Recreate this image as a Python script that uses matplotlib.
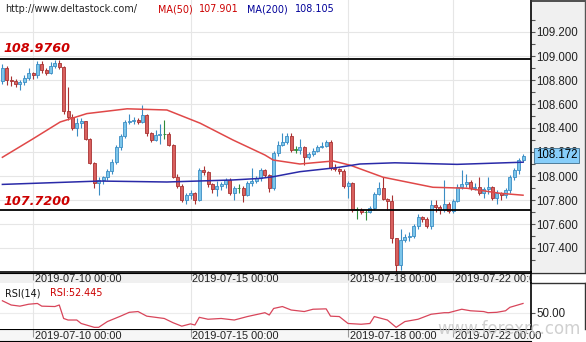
import numpy as np
import matplotlib.pyplot as plt
from matplotlib.patches import Rectangle
from matplotlib.lines import Line2D
import matplotlib.transforms as mtransforms

# H2 candles, USDJPY 2019-07-09 .. 2019-07-23
first_open = 108.79
closes = [108.90, 108.80, 108.79, 108.77, 108.78, 108.82, 108.86, 108.84, 108.93, 108.88,
          108.86, 108.92, 108.94, 108.91, 108.54, 108.49, 108.40, 108.44, 108.46, 108.31,
          108.11, 107.94, 107.97, 107.99, 108.04, 108.12, 108.24, 108.33, 108.45, 108.46,
          108.47, 108.45, 108.51, 108.36, 108.30, 108.34, 108.35, 108.35, 108.26, 107.99,
          107.92, 107.80, 107.84, 107.86, 107.80, 108.05, 108.03, 107.93, 107.89, 107.92,
          107.93, 107.97, 107.86, 107.90, 107.90, 107.84, 107.94, 107.96, 107.98, 108.05,
          108.01, 107.90, 108.19, 108.26, 108.28, 108.33, 108.22, 108.22, 108.24, 108.16,
          108.18, 108.21, 108.24, 108.25, 108.28, 108.07, 108.06, 108.04, 107.92, 107.94,
          107.72, 107.72, 107.70, 107.70, 107.73, 107.85, 107.90, 107.81, 107.79, 107.48,
          107.26, 107.47, 107.49, 107.50, 107.58, 107.66, 107.64, 107.58, 107.76, 107.74,
          107.72, 107.77, 107.71, 107.79, 107.91, 107.93, 107.95, 107.90, 107.91, 107.86,
          107.89, 107.91, 107.82, 107.86, 107.84, 107.88, 107.99, 108.05, 108.13, 108.17]
highs = [108.93, 108.92, 108.83, 108.81, 108.80, 108.84, 108.90, 108.87, 108.96, 108.96,
         108.90, 108.95, 108.97, 108.97, 108.92, 108.74, 108.52, 108.48, 108.48, 108.46,
         108.32, 108.12, 107.99, 108.00, 108.06, 108.14, 108.26, 108.35, 108.47, 108.52,
         108.49, 108.48, 108.59, 108.52, 108.37, 108.38, 108.43, 108.47, 108.37, 108.27,
         108.02, 107.93, 107.86, 107.88, 107.87, 108.07, 108.08, 108.04, 107.94, 107.96,
         107.95, 107.98, 107.98, 107.92, 107.93, 107.92, 107.96, 108.07, 108.00, 108.07,
         108.06, 108.02, 108.21, 108.29, 108.36, 108.36, 108.36, 108.25, 108.31, 108.25,
         108.20, 108.23, 108.26, 108.28, 108.30, 108.30, 108.10, 108.07, 108.06, 107.96,
         107.95, 107.74, 107.73, 107.72, 107.75, 107.87, 107.95, 107.99, 107.82, 107.84,
         107.48, 107.56, 107.52, 107.53, 107.60, 107.68, 107.67, 107.66, 107.80, 107.80,
         107.76, 107.97, 107.78, 107.81, 107.93, 108.05, 108.02, 107.97, 107.94, 107.99,
         107.91, 107.99, 107.92, 107.88, 107.87, 107.90, 108.01, 108.07, 108.15, 108.18]
lows = [108.77, 108.76, 108.75, 108.74, 108.72, 108.76, 108.80, 108.81, 108.82, 108.86,
        108.84, 108.85, 108.90, 108.89, 108.52, 108.47, 108.38, 108.33, 108.40, 108.30,
        108.10, 107.90, 107.84, 107.93, 107.97, 108.02, 108.10, 108.22, 108.32, 108.43,
        108.43, 108.43, 108.44, 108.33, 108.28, 108.29, 108.27, 108.31, 108.25, 107.98,
        107.90, 107.78, 107.77, 107.81, 107.77, 107.79, 108.01, 107.91, 107.86, 107.83,
        107.88, 107.90, 107.84, 107.80, 107.86, 107.78, 107.83, 107.92, 107.94, 107.96,
        107.99, 107.87, 107.88, 108.17, 108.25, 108.27, 108.20, 108.19, 108.18, 108.09,
        108.14, 108.17, 108.20, 108.23, 108.24, 108.05, 108.04, 108.02, 107.90, 107.82,
        107.70, 107.64, 107.68, 107.63, 107.69, 107.72, 107.84, 107.80, 107.72, 107.44,
        107.20, 107.22, 107.45, 107.46, 107.48, 107.56, 107.62, 107.57, 107.56, 107.70,
        107.68, 107.70, 107.69, 107.69, 107.78, 107.89, 107.91, 107.88, 107.88, 107.84,
        107.82, 107.85, 107.80, 107.77, 107.80, 107.82, 107.86, 107.97, 108.02, 108.12]

# moving averages (candle index, value)
ma50_idx = [0, 7, 13.2, 19.3, 28.5, 37.6, 45.2, 52.7, 60, 61.9, 68, 75.6, 79.5, 87, 98.4, 106.2, 113.7, 119]
ma50_val = [108.156, 108.31, 108.45, 108.52, 108.56, 108.55, 108.44, 108.30, 108.175, 108.133,
            108.10, 108.125, 108.09, 107.99, 107.906, 107.898, 107.856, 107.84]
ma200_idx = [0, 22.3, 37.6, 52.7, 58.9, 61.9, 68, 76.5, 81.7, 89.7, 103.9, 119]
ma200_val = [107.93, 107.958, 107.95, 107.967, 107.98, 107.994, 108.036, 108.07, 108.10, 108.11,
             108.097, 108.115]

rsi_idx = [0, 2, 4, 6, 8, 9, 12, 13, 14, 15, 17, 18, 21, 22, 24, 27, 29, 31, 33, 35,
           37, 39, 41, 43, 44, 45, 47, 50, 53, 54, 56, 60, 61, 62, 64, 66, 69, 71, 74, 75,
           77, 79, 82, 84, 85, 88, 90, 92, 95, 98, 101, 102, 105, 107, 110, 111, 113, 115, 116, 119]
rsi_val = [53.1, 52.0, 51.7, 52.2, 52.4, 51.7, 51.6, 52.0, 48.5, 48.1, 48.1, 47.2, 46.2, 46.2, 47.7,
           49.1, 50.1, 50.3, 49.1, 48.8, 48.5, 47.4, 46.5, 47.1, 46.8, 48.8, 48.3, 48.5, 48.1, 48.4,
           49.0, 50.0, 49.4, 51.1, 51.6, 50.7, 50.3, 50.9, 51.0, 49.1, 49.0, 47.2, 47.0, 47.2, 49.0,
           48.1, 46.2, 47.7, 48.3, 49.6, 50.0, 50.0, 50.9, 50.5, 50.3, 50.0, 50.1, 50.5, 51.4, 52.4]

date_idx = [7, 43, 79, 103]
date_labels = ['2019-07-10 00:00', '2019-07-15 00:00', '2019-07-18 00:00', '2019-07-22 00:00']

level_hi = 108.976
level_lo = 107.72
last_price = 108.172

W, H = 586, 342
def fy(y):
    return 1 - y / H

fig = plt.figure(figsize=(W / 100, H / 100), dpi=100)
xlim = (-2.4 / 4.375, (531 - 2.4) / 4.375)

# ---- main price chart ----
ax = fig.add_axes([0, fy(272), 531 / W, 272 / H])
ax.set_xlim(*xlim)
ax.set_ylim(107.2, 109.2 + 32 / 120)
for s in ['left', 'top']:
    ax.spines[s].set_visible(False)
ax.spines['right'].set_color('black')
ax.spines['bottom'].set_color('black')
ax.spines['right'].set_linewidth(1.2)
ax.spines['bottom'].set_linewidth(1.2)
ax.set_xticks([])
ax.yaxis.tick_right()
ax.set_yticks(np.round(np.arange(107.4, 109.21, 0.2), 1))
ax.set_yticks(np.round(np.arange(107.3, 109.31, 0.2), 1), minor=True)
ax.yaxis.set_major_formatter(plt.FormatStrFormatter('%.3f'))
ax.tick_params(axis='y', which='both', direction='out', length=3, color='#555555', width=0.8,
               labelsize=8.3, pad=1, labelcolor='#222222')
for lab in ax.get_yticklabels():
    lab.set_fontfamily('Liberation Sans')
for v in ax.get_yticks():
    ax.axhline(v, color='#e6e6e6', lw=0.8, zorder=0)
for d in date_idx:
    ax.axvline(d, color='#e6e6e6', lw=0.8, zorder=0)

opens = [first_open] + closes[:-1]
x = np.arange(len(closes))
for i in x:
    o, c = opens[i], closes[i]
    if abs(c - o) < 0.005:
        edge, fill = '#2e8b3a', '#2e8b3a'
    elif c > o:
        edge, fill = '#3b8dc4', '#7cc5ea'
    else:
        edge, fill = '#a83232', '#d9605e'
    ax.vlines(i, lows[i], highs[i], color=edge, lw=0.8, zorder=2)
    ax.bar(i, max(abs(c - o), 0.004), bottom=min(o, c), width=0.68,
           color=fill, edgecolor=edge, linewidth=0.6, zorder=2)

ax.plot(ma50_idx, ma50_val, color='#e04848', lw=1.1, zorder=3)
ax.plot(ma200_idx, ma200_val, color='#2a2aa8', lw=1.1, zorder=3)
ax.axhline(level_hi, color='black', lw=1.3, zorder=4)
ax.axhline(level_lo, color='black', lw=1.3, zorder=4)

tr = mtransforms.blended_transform_factory(ax.transAxes, ax.transData)
ax.text(536 / 531, last_price, f'{last_price:.3f}', transform=tr, ha='left', va='center',
        fontsize=8.3, family='Liberation Sans', color='black', zorder=10, clip_on=False,
        bbox=dict(boxstyle='square,pad=0.15', facecolor='#87cefa', edgecolor='#3d6d8c', lw=0.6))

# price panel background and borders
fig.patches.append(Rectangle((531 / W, fy(272)), 55 / W, 272 / H, transform=fig.transFigure,
                             facecolor='#f0f0f0', edgecolor='none', zorder=-1))
fig.lines.append(Line2D([531 / W, 1], [fy(1), fy(1)], transform=fig.transFigure, color='#333333', lw=1.2))
fig.lines.append(Line2D([585 / W, 585 / W], [fy(0), fy(272)], transform=fig.transFigure, color='#555555', lw=1))

# header texts
fig.text(5 / W, fy(9), 'http://www.deltastock.com/', fontsize=6.9, color='#222222', va='center')
fig.text(158 / W, fy(9), 'MA(50)', fontsize=6.9, color='#cc0000', va='center')
fig.text(199 / W, fy(9), '107.901', fontsize=6.9, color='#cc0000', va='center')
fig.text(247 / W, fy(9), 'MA(200)', fontsize=6.9, color='#000099', va='center')
fig.text(295 / W, fy(9), '108.105', fontsize=6.9, color='#000099', va='center')
fig.text(3 / W, fy(49), f'{level_hi:.4f}', fontsize=9.2, color='#cc0000', weight='bold',
         style='italic', va='center')
fig.text(3 / W, fy(201), f'{level_lo:.4f}', fontsize=9.2, color='#cc0000', weight='bold',
         style='italic', va='center')

# ---- date strips ----
def date_strip(rect, face, clip):
    a = fig.add_axes(rect)
    a.set_facecolor(face)
    a.set_xlim(*xlim)
    a.set_ylim(0, 1)
    a.set_xticks([])
    a.set_yticks([])
    for s in ['left', 'right']:
        a.spines[s].set_visible(False)
    a.spines['top'].set_color('black')
    a.spines['bottom'].set_visible(False)
    for d, lab in zip(date_idx, date_labels):
        a.vlines(d, 0.3, 1, color='#999999', lw=0.8)
        a.text(d + 0.45, 0.45, lab, fontsize=7.9, family='Liberation Sans', color='#222222',
               ha='left', va='center', clip_on=clip)
    return a

date_strip([0, fy(283), 531 / W, 10 / H], '#f0f0f0', True)
ax_d2 = date_strip([0, fy(341), 531 / W, 12 / H], '#f6f6f6', False)
ax_d2.spines['bottom'].set_visible(True)
ax_d2.spines['bottom'].set_color('black')

# ---- RSI panel ----
ax_r = fig.add_axes([0, fy(329), 531 / W, 46 / H])
ax_r.set_xlim(*xlim)
ax_r.set_ylim(50 - (329 - 312.7) / 3.85, 50 + (312.7 - 283) / 3.85)
for s in ['left', 'top', 'bottom']:
    ax_r.spines[s].set_visible(False)
ax_r.spines['right'].set_color('black')
ax_r.spines['right'].set_linewidth(1.2)
ax_r.set_xticks([])
ax_r.yaxis.tick_right()
ax_r.set_yticks([50])
ax_r.yaxis.set_major_formatter(plt.FormatStrFormatter('%.2f'))
ax_r.tick_params(axis='y', direction='out', length=3, color='#555555', labelsize=8.3, pad=1,
                 labelcolor='#222222')
for lab in ax_r.get_yticklabels():
    lab.set_fontfamily('Liberation Sans')
ax_r.axhline(50, color='#ececec', lw=0.8, zorder=0)
for d in date_idx:
    ax_r.axvline(d, color='#e6e6e6', lw=0.8, zorder=0)
ax_r.plot(rsi_idx, rsi_val, color='#d8455a', lw=0.9)
fig.text(5 / W, fy(293), 'RSI(14)', fontsize=6.9, color='#111111', va='center')
fig.text(50 / W, fy(293), f'RSI:{52.445:.3f}', fontsize=6.9, color='#cc0000', va='center')

fig.lines.append(Line2D([531 / W, 1], [fy(283), fy(283)], transform=fig.transFigure, color='#333333', lw=1))
fig.lines.append(Line2D([531 / W, 1], [fy(272.5), fy(272.5)], transform=fig.transFigure, color='#333333', lw=1))
fig.lines.append(Line2D([531 / W, 531 / W], [fy(272), fy(283)], transform=fig.transFigure, color='black', lw=1.2))
fig.lines.append(Line2D([585 / W, 585 / W], [fy(283), fy(329)], transform=fig.transFigure, color='#333333', lw=1))

fig.text(437 / W, fy(329), 'www.forexrc.com', fontsize=12, color='#c8c8c8', alpha=0.85, va='center')

fig.savefig('out.png', dpi=100)
